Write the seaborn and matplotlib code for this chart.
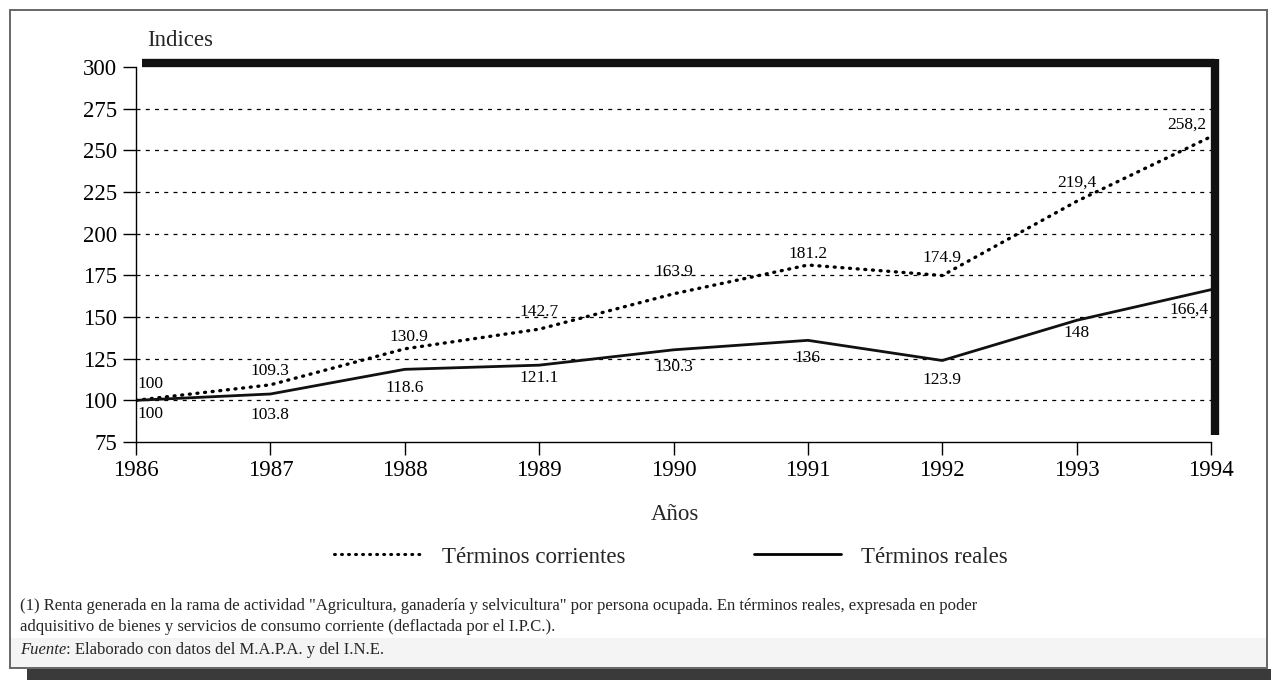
import matplotlib
matplotlib.use("Agg")
import matplotlib.pyplot as plt
import seaborn as sns
import pandas as pd
from matplotlib.patches import Rectangle
from matplotlib.lines import Line2D

# ---------------- data ----------------
years = [1986, 1987, 1988, 1989, 1990, 1991, 1992, 1993, 1994]
corrientes = [100, 109.3, 130.9, 142.7, 163.9, 181.2, 174.9, 219.4, 258.2]
reales = [100, 103.8, 118.6, 121.1, 130.3, 136, 123.9, 148, 166.4]
corrientes_labels = ["100", "109.3", "130.9", "142.7", "163.9", "181.2", "174.9", "219,4", "258,2"]
reales_labels = ["100", "103.8", "118.6", "121.1", "130.3", "136", "123.9", "148", "166,4"]
y_ticks = [75, 100, 125, 150, 175, 200, 225, 250, 275, 300]
series_names = ["Términos corrientes", "Términos reales"]
footnote_line1 = ('(1) Renta generada en la rama de actividad "Agricultura, ganadería y selvicultura" '
                  'por persona ocupada. En términos reales, expresada en poder')
footnote_line2 = 'adquisitivo de bienes y servicios de consumo corriente (deflactada por el I.P.C.).'
fuente_label = "Fuente"
fuente_text = ": Elaborado con datos del M.A.P.A. y del I.N.E."

# label offsets in pixels (dx, dy)
corr_off = [(14, 16), (0, 14), (4, 12), (0, 17), (0, 22), (0, 11), (0, 17), (0, 19), (-24, 12)]
real_off = [(14, -14), (0, -21), (0, -19), (0, -13), (0, -17), (0, -18), (0, -20), (0, -13), (-22, -20)]

sns.set_theme(style="white")
plt.rcParams["font.family"] = ["Liberation Serif", "DejaVu Serif"]

W, H = 1271, 680
fig = plt.figure(figsize=(W / 100, H / 100), dpi=100)
fig.patch.set_facecolor("white")

# axes placement in pixels
x0, x1, ytop, ybot = 136, 1211, 67, 442
ax = fig.add_axes([x0 / W, 1 - ybot / H, (x1 - x0) / W, (ybot - ytop) / H])
ax.set_facecolor("white")

dotted = (0, (0.3, 2.0))
df = pd.DataFrame({"year": years, "corr": corrientes, "real": reales})
sns.lineplot(data=df, x="year", y="corr", ax=ax, color="black", lw=2.4,
             linestyle=dotted, dash_capstyle="round", label=series_names[0])
sns.lineplot(data=df, x="year", y="real", ax=ax, color="#111111", lw=2.0,
             linestyle="-", label=series_names[1])
ax.get_legend().remove()

ax.set_xlim(years[0], years[-1])
ax.set_ylim(y_ticks[0], y_ticks[-1])
ax.set_xticks(years)
ax.set_yticks(y_ticks)
ax.tick_params(axis="both", labelsize=16.5, colors="black", width=1.0)
ax.tick_params(axis="x", direction="out", length=9, pad=4, bottom=True)
ax.tick_params(axis="y", direction="out", length=9.5, pad=4, left=True)

for s in ["top", "right"]:
    ax.spines[s].set_visible(False)
for s in ["left", "bottom"]:
    ax.spines[s].set_color("black")
    ax.spines[s].set_linewidth(1.0)

# dashed gridlines
for yv in y_ticks[1:-1]:
    ax.axhline(yv, color="black", lw=0.9, linestyle=(0, (3.2, 4.2)), zorder=1)

# thick shadow frame (top and right)
ax.add_line(Line2D([0.006, 1.0035], [1.0107, 1.0107], transform=ax.transAxes,
                   color="#111111", lw=6, clip_on=False, solid_capstyle="butt"))
ax.add_line(Line2D([1.0035, 1.0035], [1.021, 0.019], transform=ax.transAxes,
                   color="#111111", lw=6, clip_on=False, solid_capstyle="butt"))

# value labels
px2pt = 72 / 100
for x, y, t, (dx, dy) in zip(years, corrientes, corrientes_labels, corr_off):
    ax.annotate(t, (x, y), xytext=(dx * px2pt, dy * px2pt), textcoords="offset points",
                ha="center", va="center", fontsize=12.5, color="black")
for x, y, t, (dx, dy) in zip(years, reales, reales_labels, real_off):
    ax.annotate(t, (x, y), xytext=(dx * px2pt, dy * px2pt), textcoords="offset points",
                ha="center", va="center", fontsize=12.5, color="black")

# axis labels
ax.set_ylabel("Indices", fontsize=16.5, rotation=0, ha="left", va="center")
ax.yaxis.set_label_coords((147 - x0) / (x1 - x0), (ybot - 40) / (ybot - ytop))
ax.set_xlabel("Años", fontsize=16.5, va="center")
ax.xaxis.set_label_coords((675 - x0) / (x1 - x0), (ybot - 515) / (ybot - ytop))

# legend
handles = [Line2D([], [], color="black", lw=2.2, linestyle=dotted, dash_capstyle="round"),
           Line2D([], [], color="black", lw=2.0)]
fig.legend(handles, series_names, loc="center", bbox_to_anchor=(671 / W, 1 - 557 / H),
           ncol=2, frameon=False, fontsize=16.5, handlelength=3.8, handletextpad=0.9,
           columnspacing=5.6, borderpad=0)

# outer frame, band and shadow
fig.patches.append(Rectangle((10 / W, 1 - 668 / H), 1257 / W, 658 / H, transform=fig.transFigure,
                             fill=False, edgecolor="#666666", lw=1.4, zorder=0))
fig.patches.append(Rectangle((11 / W, 1 - 667 / H), 1255 / W, 29 / H, transform=fig.transFigure,
                             facecolor="#f4f4f4", edgecolor="none", zorder=-1))
fig.patches.append(Rectangle((27 / W, 0), (W - 27) / W, 11 / H, transform=fig.transFigure,
                             facecolor="#3a3a3a", edgecolor="none", zorder=0))

# footnotes
fs = 12
fig.text(20 / W, 1 - 606 / H, footnote_line1, fontsize=fs, ha="left", va="center")
fig.text(20 / W, 1 - 627 / H, footnote_line2, fontsize=fs, ha="left", va="center")
ft = fig.text(20 / W, 1 - 650 / H, fuente_label, fontsize=fs, style="italic", ha="left", va="center")
fig.canvas.draw()
bb = ft.get_window_extent()
fig.text(bb.x1 / W, 1 - 650 / H, fuente_text, fontsize=fs, ha="left", va="center")

fig.savefig("out.png", dpi=100, facecolor="white")
